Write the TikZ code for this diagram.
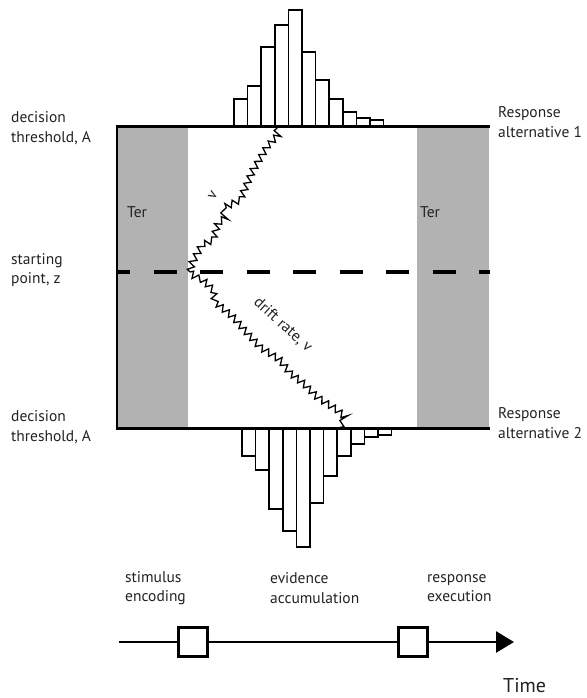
\documentclass[tikz,border=0pt]{standalone}
\usepackage{fontspec}
\setmainfont{PT Sans}
\usetikzlibrary{arrows.meta,decorations.pathmorphing}

\definecolor{tergray}{HTML}{B1B2B1}
\definecolor{inkgray}{HTML}{222222}

\tikzset{
  lbl/.style={align=left,anchor=west,font=\fontsize{15.5}{19.5}\selectfont,text=inkgray,inner sep=0pt},
  bar/.style={draw=black,fill=white,line width=1.5pt},
  walk/.style={draw=black,line width=1.3pt,line join=miter,decorate,
    decoration={zigzag,segment length=8pt,amplitude=3.2pt}},
  stagebox/.style={draw=black,fill=white,line width=3pt,minimum size=29pt,inner sep=0pt},
}

\begin{document}
\begin{tikzpicture}[x=1pt,y=-1pt]
      \useasboundingbox (0,0) rectangle (586,698);

      % Non-decision time bands
      \fill[tergray] (117,126) rectangle (188,428);
      \fill[tergray] (417,126) rectangle (489,428);
      \node[lbl] (terL) at (127,212) {Ter};
      \node[lbl] (terR) at (420,212) {Ter};

      % Starting point (dashed)
      \draw[line width=3.5pt,dash pattern=on 23pt off 23.5pt,dash phase=10pt] (117,272) -- (490,272);

      % Upper histogram (alternative 1)
      \foreach \top [count=\i from 0] in {99,86,47,25,10,52,80,99,112,118,120}
        \draw[bar] (234+13.6*\i,126) rectangle (234+13.6*\i+13.6,\top);

      % Lower histogram (alternative 2)
      \foreach \bot [count=\i from 0] in {456,470,509,531,547,503,476,456,444,437,435}
        \draw[bar] (242+13.6*\i,428) rectangle (242+13.6*\i+13.6,\bot);

      % Thresholds
      \draw[line width=2pt] (117,126) -- (117,428);
      \draw[line width=3pt] (116,126) -- (490,126);
      \draw[line width=3pt] (116,428) -- (490,428);

      % Sample paths
      \draw[walk] (190,272) -- (192,263) -- (202,245) -- (213,240) -- (218,223) -- (225,218)
        -- (223,208) -- (240,200) -- (253,170) -- (267,147) -- (278,135) -- (277,128);
      \draw[walk] (190,272) -- (195,277) -- (203,280) -- (213,290) -- (215,302) -- (233,317)
        -- (247,333) -- (260,347) -- (280,360) -- (290,373) -- (303,383) -- (317,397)
        -- (337,410) -- (345,417) -- (340,428);
      \node[lbl,anchor=center,rotate=60] (vup) at (213,195) {v};
      \node[lbl,anchor=center,rotate=-42] (drift) at (283,325) {drift rate, v};

      % Left labels
      \node[lbl] (thrA) at (11,128) {decision\\threshold, A};
      \node[lbl] (start) at (11,270) {starting\\point, z};
      \node[lbl] (thrB) at (11,427) {decision\\threshold, A};

      % Right labels
      \node[lbl] (alt1) at (498,122) {Response\\alternative 1};
      \node[lbl] (alt2) at (498,423) {Response\\alternative 2};

      % Stages
      \node[lbl] (enc) at (125,588) {stimulus\\encoding};
      \node[lbl] (acc) at (270,588) {evidence\\accumulation};
      \node[lbl] (exe) at (427,588) {response\\execution};

      % Time line
      \coordinate (t0) at (119,642);
      \coordinate (t1) at (514,642);
      \node[stagebox] (box1) at (193,642) {};
      \node[stagebox] (box2) at (413,642) {};
      \draw[line width=2.5pt] (t0) -- (box1);
      \draw[line width=2.5pt] (box1) -- (box2);
      \draw[line width=2.5pt,-{Triangle[length=18pt,width=21pt]}] (box2) -- (t1);
      \node[lbl,font=\fontsize{20}{24}\selectfont] (time) at (503,686) {Time};

\end{tikzpicture}
\end{document}
